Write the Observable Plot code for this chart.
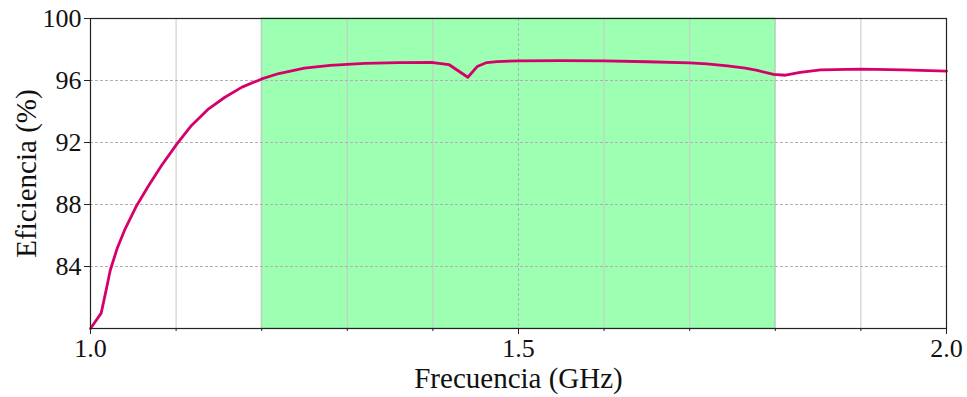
<!DOCTYPE html>
<html>
<head>
<meta charset="utf-8">
<script src="https://cdn.jsdelivr.net/npm/d3@7"></script>
<script src="https://cdn.jsdelivr.net/npm/@observablehq/plot@0.6"></script>
<style>
  html, body { margin: 0; padding: 0; background: #fff; }
  #chart svg { display: block; }
</style>
</head>
<body>
<div id="chart"></div>
<script>
const freq = [1.0, 1.0125, 1.019, 1.023, 1.031, 1.0405, 1.054, 1.068, 1.083, 1.101, 1.118, 1.138, 1.157, 1.177, 1.20, 1.22, 1.25, 1.28, 1.32, 1.36, 1.40, 1.4186, 1.4408, 1.4517, 1.463, 1.475, 1.50, 1.55, 1.60, 1.65, 1.70, 1.72, 1.744, 1.765, 1.779, 1.798, 1.812, 1.829, 1.853, 1.90, 1.95, 2.0];
const eff  = [80.0, 80.99, 82.67, 83.74, 85.14, 86.43, 87.94, 89.23, 90.52, 91.91, 93.1, 94.17, 94.92, 95.57, 96.1, 96.45, 96.8, 96.98, 97.1, 97.15, 97.16, 97.03, 96.21, 96.9, 97.16, 97.22, 97.27, 97.28, 97.26, 97.21, 97.14, 97.07, 96.95, 96.8, 96.65, 96.39, 96.34, 96.52, 96.69, 96.73, 96.69, 96.6];
const bandStart = [1.2];
const bandEnd = [1.8];
const xMajorTicks = [1.0, 1.5, 2.0];
const xMinorTicks = [1.1, 1.2, 1.3, 1.4, 1.6, 1.7, 1.8, 1.9];
const yTicks = [84, 88, 92, 96, 100];
const yGrid = [84, 88, 92, 96];

const series = freq.map((f, i) => ({f, e: eff[i]}));
const band = bandStart.map((s, i) => ({x1: s, x2: bandEnd[i]}));

const font = "'Liberation Serif', 'DejaVu Serif', serif";

const chart = Plot.plot({
  width: 967,
  height: 397,
  marginLeft: 90,
  marginRight: 21,
  marginTop: 18,
  marginBottom: 69,
  style: {fontFamily: font, background: "#fff", color: "#111"},
  x: {domain: [1.0, 2.0]},
  y: {domain: [80, 100]},
  marks: [
    Plot.rect(band, {x1: "x1", x2: "x2", y1: 80, y2: 100, fill: "#9cffb2", stroke: "#86e59c", strokeWidth: 1}),
    Plot.gridX(xMinorTicks, {stroke: "#c8c8c8", strokeOpacity: 1, strokeWidth: 1}),
    Plot.gridX([1.5], {stroke: "#b0b0b0", strokeOpacity: 1, strokeWidth: 1, strokeDasharray: "3,2"}),
    Plot.gridY(yGrid, {stroke: "#b0b0b0", strokeOpacity: 1, strokeWidth: 1, strokeDasharray: "3,2"}),
    Plot.line(series, {x: "f", y: "e", stroke: "#d6006c", strokeWidth: 2.8, strokeLinejoin: "round", curve: "linear"}),
    Plot.frame({stroke: "#222", strokeWidth: 1.2}),
    Plot.axisX(xMinorTicks, {tickSize: 3, text: null, label: null, stroke: "#222"}),
    Plot.axisX(xMajorTicks, {tickSize: 6, tickPadding: 4, tickFormat: d3.format(".1f"), fontSize: 26, fontFamily: font,
      label: "Frecuencia (GHz)", labelAnchor: "center", labelArrow: "none", labelOffset: 59, stroke: "#222"}),
    Plot.axisY(yTicks, {tickSize: 6, tickPadding: 3, fontSize: 26, fontFamily: font,
      label: "Eficiencia (%)", labelAnchor: "center", labelArrow: "none", labelOffset: 75, stroke: "#222"})
  ]
});
chart.querySelectorAll("g[aria-label='x-axis label'] text, g[aria-label='y-axis label'] text").forEach(t => {
  t.setAttribute("font-size", 29);
});
document.getElementById("chart").appendChild(chart);
</script>
</body>
</html>
